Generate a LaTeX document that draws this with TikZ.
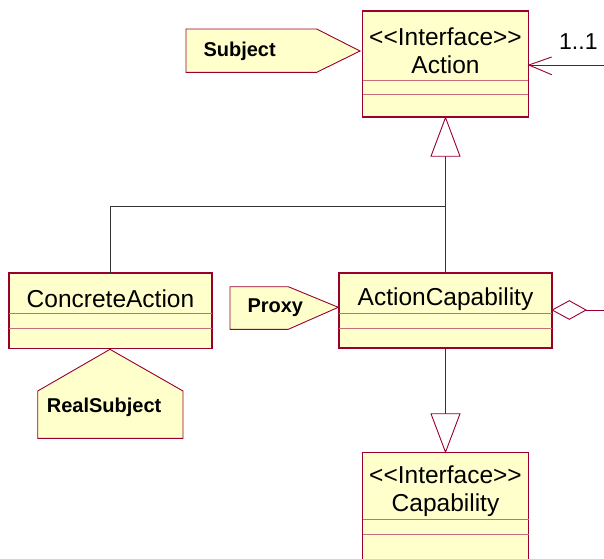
\documentclass[tikz,border=0pt]{standalone}
\usepackage{fontspec}
\setmainfont{Liberation Sans}
\usetikzlibrary{calc}
\definecolor{umlfill}{HTML}{FFFFCC}
\definecolor{umlborder}{HTML}{99002E}
\definecolor{umlsep}{HTML}{C86E7A}
\definecolor{umlgray}{HTML}{333333}
\tikzset{
  classbox/.style={draw=umlborder, fill=umlfill, line width=1.1pt, rectangle, inner sep=0pt},
  seprule/.style={draw=umlsep, line width=1pt},
  tagshape/.style={draw=umlborder, fill=umlfill, line width=0.9pt},
  classtext/.style={font=\fontsize{24.5}{28}\selectfont, align=center, inner sep=0pt},
  tagtext/.style={font=\fontsize{20}{24}\selectfont\bfseries, inner sep=0pt, anchor=west},
  genline/.style={draw=umlgray, line width=1.3pt},
  assocline/.style={draw=umlborder, line width=0.9pt},
}
\newcommand{\stereo}{<{}<Interface>{}>}
\begin{document}
\begin{tikzpicture}[x=1pt,y=-1pt]
\useasboundingbox (0,0) rectangle (604,558);
\clip (0,0) rectangle (604,558);

% Action
\node[classbox, minimum width=165.6pt, minimum height=106pt] (action) at (445.5,64) {};
\draw[seprule] (362.7,80) -- (528.3,80);
\draw[seprule] (362.7,94.7) -- (528.3,94.7);
\draw[draw=umlborder, line width=1.1pt] (action.north west) rectangle (action.south east);
\node[classtext] (actiontxt) at (445.5,51) {\stereo\\Action};

% ConcreteAction
\node[classbox, minimum width=202.4pt, minimum height=75pt] (concrete) at (110.5,310.8) {};
\draw[seprule] (9.3,313.3) -- (211.7,313.3);
\draw[seprule] (9.3,328) -- (211.7,328);
\draw[draw=umlborder, line width=1.1pt] (concrete.north west) rectangle (concrete.south east);
\node[classtext] (concretetxt) at (110.5,299) {ConcreteAction};

% ActionCapability
\node[classbox, minimum width=212.4pt, minimum height=74.7pt] (actcap) at (445.5,310.65) {};
\draw[seprule] (339.3,313.3) -- (551.7,313.3);
\draw[seprule] (339.3,328) -- (551.7,328);
\draw[draw=umlborder, line width=1.1pt] (actcap.north west) rectangle (actcap.south east);
\node[classtext] (actcaptxt) at (445.5,299.3) {ActionCapability};

% Capability (cut off at the bottom)
\node[classbox, minimum width=166pt, minimum height=120pt] (capab) at (445.5,512.7) {};
\draw[seprule] (362.5,519.3) -- (528.5,519.3);
\draw[seprule] (362.5,534) -- (528.5,534);
\node[classtext] (capabtxt) at (445.5,491.5) {\stereo\\Capability};

% Stereotype tags
\draw[tagshape] (186,29) -- (316.7,29) -- (360,51) -- (316.7,72.3) -- (186,72.3) -- cycle;
\node[tagtext] (subject) at (203.3,51) {Subject};
\draw[tagshape] (230,286.7) -- (288.3,286.7) -- (338.3,307.3) -- (288.3,329.3) -- (230,329.3) -- cycle;
\node[tagtext] (proxy) at (247.3,308) {Proxy};
\draw[tagshape] (110,349.3) -- (183,391) -- (183,438.3) -- (37.7,438.3) -- (37.7,391) -- cycle;
\node[tagtext] (realsubj) at (46.7,407.7) {RealSubject};

% Generalization: ActionCapability & ConcreteAction -> Action
\coordinate (genbase) at ($(action.south)+(0,38.7)$);
\coordinate (junction) at (445.5,206.7);
\draw[genline] (actcap.north) -- (genbase);
\draw[genline] (concrete.north) |- (junction);
\draw[draw=umlborder, fill=white, line width=0.9pt] (action.south) -- ($(genbase)+(-14.5,0)$) -- ($(genbase)+(14.5,0)$) -- cycle;

% ActionCapability -> Capability
\coordinate (capbase) at ($(capab.north)+(0,-38.4)$);
\draw[genline] (actcap.south) -- (capbase);
\draw[draw=umlborder, fill=white, line width=0.9pt] (capab.north) -- ($(capbase)+(-14.5,0)$) -- ($(capbase)+(14.5,0)$) -- cycle;

% Association 1..1 into Action
\coordinate (assocend) at (604,65);
\draw[assocline] (assocend) -- (action.east |- assocend);
\draw[assocline] (551.7,57) -- (action.east |- assocend) -- (551.7,74.7);
\node[font=\fontsize{23}{26}\selectfont, inner sep=0pt, anchor=west] (mult) at (559,42) {1..1};

% Aggregation diamond on ActionCapability
\coordinate (aggend) at (604,310);
\draw[assocline] (aggend) -- (586,310);
\draw[assocline, fill=white] (actcap.east |- aggend) -- (569.3,300.7) -- (586,310) -- (569.3,319.3) -- cycle;
\end{tikzpicture}
\end{document}
